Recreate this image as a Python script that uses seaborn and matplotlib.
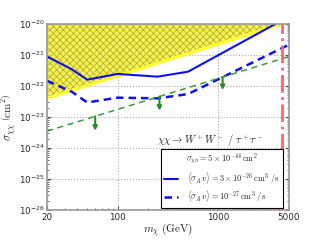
import numpy as np
import matplotlib
matplotlib.use("Agg")
import matplotlib.pyplot as plt
import pandas as pd
import seaborn as sns
from matplotlib.ticker import FixedLocator, NullFormatter

# data
mass = [20, 35, 50, 100, 250, 500, 5000]
sv_3e26 = [8.9e-22, 3.5e-22, 1.6e-22, 2.45e-22, 2.0e-22, 2.9e-22, 1.74e-20]
sv_1e27 = [1.47e-22, 6.6e-23, 2.95e-23, 4.2e-23, 4.0e-23, 5.5e-23, 2.15e-21]

green_mass = [20, 5000]
green_sigma = [3.5e-24, 8.9e-22]

arrow_mass = [60, 260, 1100]
arrow_top = [1.05e-23, 4.55e-23, 1.93e-22]
arrow_bottom = [3.6e-24, 1.6e-23, 7.4e-23]

excl_mass = [20, 4250]
excl_low = [4e-23, 1e-20]
excl_high = [1e-20, 1e-20]

red_mass = 4250
xticks = [20, 100, 1000, 5000]
yticks = [1e-26, 1e-25, 1e-24, 1e-23, 1e-22, 1e-21, 1e-20]

sns.set_style("ticks")
plt.rcParams["hatch.linewidth"] = 0.5

fig = plt.figure(figsize=(3.2, 2.4), dpi=100)
ax = fig.add_axes([0.147, 0.125, 0.756, 0.775])

# excluded region
ax.fill_between(excl_mass, excl_low, excl_high, color="#f6f24a", lw=0, zorder=1)
ax.fill_between(excl_mass, excl_low, excl_high, facecolor="none", hatch="xxxxx",
                edgecolor="#aaa744", lw=0, zorder=1.1)
ax.plot(excl_mass, excl_low, color="#ffff30", lw=2.2, zorder=1.2)

df = pd.DataFrame({"m": mass, "a": sv_3e26, "b": sv_1e27})
sns.lineplot(data=df, x="m", y="a", color="#1010ee", lw=1.5, ax=ax,
             label=r"$\langle\sigma_A\,v\rangle=3\times10^{-26}\,\mathrm{cm}^3\ /\mathrm{s}$")
sns.lineplot(data=df, x="m", y="b", color="#1010ee", lw=1.8, ls=(0, (3, 2)), ax=ax,
             label=r"$\langle\sigma_A\,v\rangle=10^{-27}\,\mathrm{cm}^3\ /\mathrm{s}$")
gdf = pd.DataFrame({"m": green_mass, "s": green_sigma})
sns.lineplot(data=gdf, x="m", y="s", color="#3c9a3c", lw=1.1, ls=(0, (4, 3)), ax=ax,
             legend=False)

for m, top, bot in zip(arrow_mass, arrow_top, arrow_bottom):
    ax.annotate("", xy=(m, bot), xytext=(m, top),
                arrowprops=dict(arrowstyle="-|>", color="#2a8a2a", lw=1.5,
                                mutation_scale=6, shrinkA=0, shrinkB=0))

ax.axvline(red_mass, color="#ff6666", lw=2, ls="-.", zorder=3)

ax.set_xscale("log")
ax.set_yscale("log")
ax.set_xlim(20, 5000)
ax.set_ylim(1e-26, 1e-20)
ax.xaxis.set_major_locator(FixedLocator(xticks))
ax.set_xticklabels([str(t) for t in xticks])
ax.xaxis.set_minor_formatter(NullFormatter())
ax.yaxis.set_major_locator(FixedLocator(yticks))
ax.yaxis.set_minor_formatter(NullFormatter())
ax.tick_params(which="both", direction="in", top=True, right=True, labelsize=6.3,
               color="#555555", pad=2)
ax.tick_params(which="major", length=3)
ax.tick_params(which="minor", length=1.5)
ax.grid(True, which="major", ls=":", color="#aaaaaa", lw=0.8)
for sp in ax.spines.values():
    sp.set_color("#999999")
    sp.set_linewidth(1.2)

ax.set_xlabel(r"$m_{\chi}\ \mathrm{(GeV)}$", fontsize=8, math_fontfamily="cm")
ax.set_ylabel(r"$\sigma_{\chi\chi}\ \left(\mathrm{cm}^2\right)$", fontsize=8,
              math_fontfamily="cm")
ax.xaxis.set_label_coords(0.5, -0.06)
ax.yaxis.set_label_coords(-0.116, 0.5)

ax.text(0.893, 0.376, r"$\chi\chi\rightarrow W^+W^-\ /\ \tau^+\tau^-$", transform=ax.transAxes,
        ha="right", va="center", fontsize=7.5, math_fontfamily="cm")

leg = ax.legend(loc="lower right", bbox_to_anchor=(0.975, 0.012), borderaxespad=0,
                title=r"$\sigma_{\chi n}=5\times10^{-44}\,\mathrm{cm}^2$",
                fontsize=6.0, title_fontsize=6.0, fancybox=False, framealpha=1,
                edgecolor="black", handlelength=1.6, handletextpad=1.1,
                borderpad=0.4, labelspacing=0.3)
leg.get_frame().set_linewidth(0.8)
for t in leg.get_texts():
    t.set_math_fontfamily("cm")
leg.get_title().set_math_fontfamily("cm")

fig.savefig("out.png", dpi=100)
